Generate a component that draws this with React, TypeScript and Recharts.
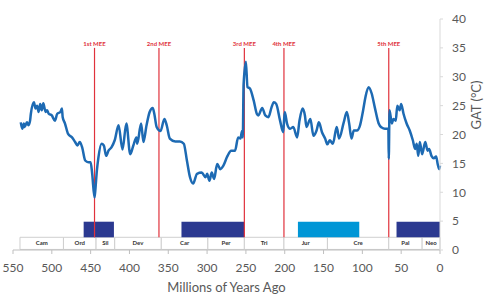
import { LineChart, Line, XAxis, YAxis, ReferenceArea, ReferenceLine } from "recharts";

// global average temperature reconstruction, Ma before present -> °C
const ages = [
  540, 538, 536, 535, 532, 530, 528, 527, 523, 521, 519, 517, 515, 513, 511, 508, 506, 504, 500, 496,
  493, 489, 487, 486, 483, 479, 474, 470, 467, 464, 461, 457, 453, 450, 448, 445, 444, 442, 440, 436,
  433, 430, 427, 423, 419, 414, 409, 404, 399, 395, 391, 390, 385, 382, 378, 374, 370, 368, 365, 360,
  355, 352, 348, 341, 335, 330, 326, 322, 318, 313, 307, 302, 300, 297, 294, 291, 287, 283, 279, 274,
  269, 264, 260, 257, 255, 254, 253, 250, 248, 245, 240, 236, 234, 229, 225, 221, 217, 214, 211, 206,
  202, 200, 197, 193, 189, 184, 181, 177, 174, 172, 167, 163, 159, 156, 152, 148, 145, 142, 138, 133,
  130, 124, 120, 117, 114, 111, 107, 103, 99, 96, 92, 88, 84, 79, 75, 71, 67, 66.5, 66, 65,
  62, 60, 57, 55, 52, 50, 47, 43, 39, 35, 32, 30, 28, 26, 23, 19, 16, 14, 11, 8,
  5, 3, 1, 0,
];
const gat = [
  22.1, 21.0, 21.9, 21.3, 22.1, 21.6, 22.4, 23.6, 25.6, 24.5, 25.0, 23.9, 25.3, 24.2, 25.4, 23.9, 24.2, 23.6, 23.3, 22.4,
  23.6, 23.9, 24.5, 23.0, 21.9, 20.1, 19.5, 18.7, 18.1, 18.7, 17.8, 15.5, 15.2, 15.2, 13.2, 9.1, 10.3, 13.7, 16.0, 18.4,
  18.1, 16.3, 17.2, 17.8, 19.0, 21.6, 17.4, 21.9, 16.6, 18.1, 19.5, 18.4, 21.9, 18.7, 21.6, 23.9, 24.6, 23.6, 21.3, 20.6,
  22.7, 21.6, 19.3, 18.8, 18.8, 18.4, 15.5, 12.6, 11.5, 13.2, 13.4, 12.6, 13.2, 12.0, 13.4, 12.3, 14.9, 14.0, 14.6, 16.2,
  17.2, 17.2, 19.5, 19.3, 20.6, 19.5, 28.6, 32.6, 28.2, 28.0, 25.9, 23.6, 23.3, 24.6, 23.3, 23.0, 24.7, 25.6, 25.3, 22.4,
  20.4, 23.9, 21.9, 21.0, 21.3, 19.5, 22.4, 24.5, 23.3, 21.3, 22.7, 19.8, 20.7, 22.1, 20.4, 19.3, 18.3, 19.0, 18.4, 21.3,
  19.3, 22.1, 23.9, 21.9, 19.3, 20.7, 20.7, 21.6, 24.2, 26.5, 28.2, 27.1, 24.7, 21.9, 21.2, 21.0, 21.0, 21.0, 15.8, 24.2,
  21.9, 22.7, 22.4, 25.0, 24.2, 25.3, 23.6, 21.9, 20.7, 19.0, 17.5, 18.4, 16.3, 18.7, 16.6, 18.7, 17.2, 17.5, 16.3, 15.9,
  16.2, 14.9, 14.0, 14.6,
];

const periodNames = ["Cam", "Ord", "Sil", "Dev", "Car", "Per", "Tri", "Jur", "Cre", "Pal", "Neo"];
const periodStarts = [541, 485, 443, 419, 359, 299, 252, 201, 145, 66, 23];
const periodEnds = [485, 443, 419, 359, 299, 252, 201, 145, 66, 23, 0];

const iceStarts = [459, 333, 183, 56];
const iceEnds = [420, 252, 104, 0];
const iceKinds = ["icehouse", "icehouse", "cool", "icehouse"];

const meeNames = ["1st MEE", "2nd MEE", "3rd MEE", "4th MEE", "5th MEE"];
const meeAges = [445, 362, 252, 201, 66];

const xTicks = [550, 500, 450, 400, 350, 300, 250, 200, 150, 100, 50, 0];
const yTicks = [0, 5, 10, 15, 20, 25, 30, 35, 40];

const data = ages.map((age, i) => ({ age, gat: gat[i] }));

const FONT = "Lato, 'Open Sans', sans-serif";
const AXIS_TEXT = "#595959";
const MEE_RED = "#E0323C";

export default function App() {
  return (
    <div style={{ position: "absolute", left: 0, top: 0, width: 489, height: 300, background: "#fff" }}>
      <LineChart
        width={489}
        height={300}
        data={data}
        margin={{ top: 19, right: 0, left: 13, bottom: 0 }}
        style={{ fontFamily: FONT }}
      >
        <XAxis
          dataKey="age"
          type="number"
          domain={[0, 550]}
          reversed
          ticks={xTicks}
          height={50}
          stroke="#BFBFBF"
          tickSize={4}
          tickMargin={9}
          tick={{ fill: AXIS_TEXT, fontSize: 12 }}
          label={{ value: "Millions of Years Ago", position: "insideBottom", offset: 8, fill: AXIS_TEXT, fontSize: 13 }}
        />
        <YAxis
          orientation="right"
          domain={[0, 40]}
          ticks={yTicks}
          width={49}
          stroke="#D9D9D9"
          tickSize={3}
          tickMargin={9}
          tick={{ fill: AXIS_TEXT, fontSize: 12 }}
          label={{
            content: () => (
              <text
                transform="translate(481,105) rotate(-90)"
                textAnchor="middle"
                fill={AXIS_TEXT}
                fontSize={13}
                fontFamily={FONT}
              >
                GAT (°C)
              </text>
            ),
          }}
        />
        {periodNames.map((name, i) => (
          <ReferenceArea
            key={name}
            x1={periodStarts[i]}
            x2={periodEnds[i]}
            y1={0.1}
            y2={2.2}
            fill="#fff"
            fillOpacity={1}
            stroke="#CFCFCF"
            strokeWidth={1}
            label={{ value: name, position: "center", fontSize: 6, fontWeight: 700, fill: "#333" }}
          />
        ))}
        {iceStarts.map((start, i) => (
          <ReferenceArea
            key={start}
            x1={start}
            x2={iceEnds[i]}
            y1={2.2}
            y2={4.9}
            fill={iceKinds[i] === "cool" ? "#0096D6" : "#2B3990"}
            fillOpacity={1}
            stroke="none"
          />
        ))}
        {meeAges.map((age, i) => (
          <ReferenceLine
            key={age}
            segment={[
              { x: age, y: 2.2 },
              { x: age, y: 35 },
            ]}
            stroke={MEE_RED}
            strokeWidth={1.2}
            label={{
              content: (props: any) => (
                <text
                  x={props.viewBox.x}
                  y={props.viewBox.y - 1.5}
                  textAnchor="middle"
                  fill={MEE_RED}
                  fontSize={6}
                  fontWeight={700}
                  fontFamily={FONT}
                >
                  {meeNames[i]}
                </text>
              ),
            }}
          />
        ))}
        <Line
          dataKey="gat"
          type="monotone"
          stroke="#1D6AB3"
          strokeWidth={2.5}
          dot={false}
          isAnimationActive={false}
        />
      </LineChart>
    </div>
  );
}
